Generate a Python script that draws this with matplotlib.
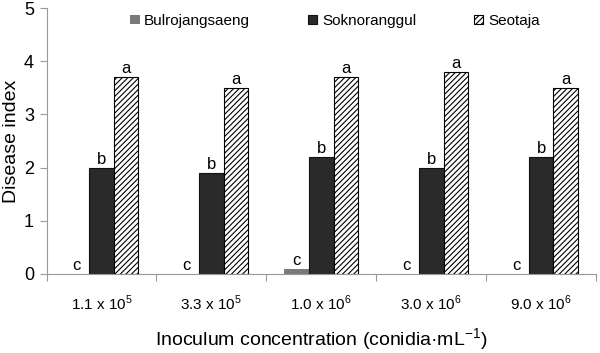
import matplotlib
matplotlib.use("Agg")
import matplotlib.pyplot as plt
import numpy as np

plt.rcParams['font.family'] = ['Liberation Sans', 'DejaVu Sans']
plt.rcParams['mathtext.fontset'] = 'custom'
plt.rcParams['mathtext.rm'] = 'Liberation Sans'
plt.rcParams['hatch.linewidth'] = 0.8

categories = [r"1.1 x 10$^{\mathregular{5}}$", r"3.3 x 10$^{\mathregular{5}}$",
              r"1.0 x 10$^{\mathregular{6}}$", r"3.0 x 10$^{\mathregular{6}}$",
              r"9.0 x 10$^{\mathregular{6}}$"]
series_names = ["Bulrojangsaeng", "Soknoranggul", "Seotaja"]
bulrojangsaeng = [0.0, 0.0, 0.1, 0.0, 0.0]
soknoranggul = [2.0, 1.9, 2.2, 2.0, 2.2]
seotaja = [3.7, 3.5, 3.7, 3.8, 3.5]
letters_bul = ["c", "c", "c", "c", "c"]
letters_sok = ["b", "b", "b", "b", "b"]
letters_seo = ["a", "a", "a", "a", "a"]

fig = plt.figure(figsize=(6.0, 3.53), dpi=100)
ax = fig.add_axes([0.0775, 0.224, 0.916, 0.753])

x = np.arange(len(categories))
w = 0.224
styles = [
    dict(color='#7a7a7a', linewidth=0),
    dict(color='#2a2a2a', edgecolor='#111111', linewidth=0.8),
    dict(facecolor='white', edgecolor='black', hatch='//////', linewidth=0.8),
]
data = [bulrojangsaeng, soknoranggul, seotaja]
letters = [letters_bul, letters_sok, letters_seo]
for i, (vals, st, name, lets) in enumerate(zip(data, styles, series_names, letters)):
    pos = x + (i - 1) * w
    ax.bar(pos, vals, w, label=name, **st)
    for p, v, l in zip(pos, vals, lets):
        ax.text(p, v + 0.02, l, ha='center', va='bottom', fontsize=12)

ax.set_xlim(-0.5, len(categories) - 0.5)
ax.set_ylim(0, 5)
ax.set_yticks(range(6))
ax.tick_params(axis='y', labelsize=13, length=5, color='#999999', pad=4)
ax.set_xticks(np.arange(len(categories) + 1) - 0.5)
ax.set_xticklabels([])
ax.tick_params(axis='x', which='major', length=5, color='#999999', direction='out')
ax.set_xticks(x, minor=True)
ax.set_xticklabels(categories, minor=True, fontsize=11)
ax.tick_params(axis='x', which='minor', length=0, pad=14)
for s in ['top', 'right']:
    ax.spines[s].set_visible(False)
for s in ['left', 'bottom']:
    ax.spines[s].set_color('#999999')

ax.set_ylabel("Disease index", fontsize=14, labelpad=3)
ax.set_xlabel("Inoculum concentration (conidia·mL$^{\\mathregular{-1}}$)", fontsize=14, labelpad=10)

ax.legend(loc='upper center', bbox_to_anchor=(0.525, 1.03), ncol=3, frameon=False,
          fontsize=11, handlelength=0.6, handleheight=0.6, handletextpad=0.3,
          columnspacing=3.8)

fig.savefig("out.png", dpi=100)
